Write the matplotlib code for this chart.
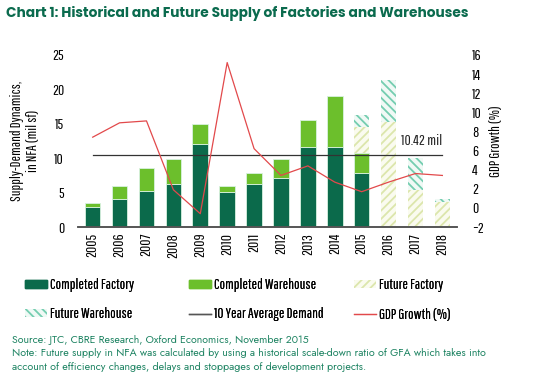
import matplotlib.pyplot as plt
import matplotlib as mpl
from matplotlib.patches import Patch
from matplotlib.lines import Line2D
import numpy as np

years = ['2005', '2006', '2007', '2008', '2009', '2010', '2011',
         '2012', '2013', '2014', '2015', '2016', '2017', '2018']
completed_factory = [2.9, 4.1, 5.2, 6.2, 12.1, 5.1, 6.3, 7.2, 11.7, 11.7, 7.9, 0, 0, 0]
completed_warehouse = [0.6, 1.9, 3.4, 3.7, 2.9, 0.9, 1.6, 2.7, 3.9, 7.3, 2.9, 0, 0, 0]
future_factory = [0, 0, 0, 0, 0, 0, 0, 0, 0, 0, 3.7, 15.2, 5.4, 3.7]
future_warehouse = [0, 0, 0, 0, 0, 0, 0, 0, 0, 0, 1.8, 6.2, 4.6, 0.4]
avg_demand = 10.42
gdp_growth = [7.4, 8.9, 9.1, 1.9, -0.6, 15.2, 6.2, 3.4, 4.4, 2.7, 1.7, 2.7, 3.6, 3.4]

dark = '#0b6a4b'
light = '#6cbf2c'
ff_col = '#dce6ac'
fw_col = '#74cdb0'
red = '#e2494b'
txt_green = '#1f8463'

mpl.rcParams['hatch.linewidth'] = 1.3
cond = ['Pathway Gothic One', 'DejaVu Sans']
geo = ['Jost', 'Questrial', 'DejaVu Sans']
geo_bold = ['Poppins', 'DejaVu Sans']
fs = 10.5

fig = plt.figure(figsize=(5.41, 3.76), dpi=100)
ax = fig.add_axes([0.144, 0.396, 0.701, 0.458])
ax2 = ax.twinx()

x = np.arange(len(years))
w = 0.58
cf = np.array(completed_factory)
cw = np.array(completed_warehouse)
fu_f = np.array(future_factory)
fu_w = np.array(future_warehouse)

# stacked bars: completed first, then future (hatched)
ax.bar(x, cf, w, color=dark, edgecolor='#d8f2e0', linewidth=0.6, zorder=2)
ax.bar(x, cw, w, bottom=cf, color=light, edgecolor='#d8f2e0', linewidth=0.6, zorder=2)
mpl.rcParams['hatch.color'] = ff_col
ax.bar(x, fu_f, w, bottom=cf + cw, color='#fafbef', edgecolor=ff_col, hatch='////',
       linewidth=0, zorder=2)
mpl.rcParams['hatch.color'] = fw_col
ax.bar(x, fu_w, w, bottom=cf + cw + fu_f, color='#f0f9f5', edgecolor=fw_col, hatch='\\\\\\\\',
       linewidth=0, zorder=2)

ax.plot(x, [avg_demand] * len(x), color='#333333', linewidth=0.9, zorder=3)
ax.text(x[-1], avg_demand + 1.0, '10.42 mil', ha='right', va='bottom',
        fontsize=11, family=cond, color='#222222')

ax2.plot(x, gdp_growth, color=red, linewidth=0.9, zorder=3)

ax.set_xlim(-0.55, len(x) - 0.45)
ax.set_ylim(0, 25)
ax2.set_ylim(-2, 16)
ax.set_yticks(range(0, 26, 5))
ax2.set_yticks(range(-2, 17, 2))
ax.set_xticks(x)
ax.set_xticklabels(years, rotation=90)

for a in (ax, ax2):
    for s in ('top', 'left', 'right'):
        a.spines[s].set_visible(False)
    a.spines['bottom'].set_color('#555555')
    a.spines['bottom'].set_linewidth(1.2)
    a.tick_params(length=0, labelsize=11)
for lab in ax.get_yticklabels() + ax2.get_yticklabels() + ax.get_xticklabels():
    lab.set_family(cond)
ax.tick_params(axis='y', pad=10)
ax2.tick_params(axis='y', pad=11)
ax.tick_params(axis='x', pad=4)

ax.set_ylabel('Supply-Demand Dynamics,\nin NFA (mil sf)', family=cond, fontsize=fs,
              labelpad=9, linespacing=1.1)
ax2.set_ylabel('GDP Growth (%)', family=cond, fontsize=fs, labelpad=3)


def fit(t, width_px):
    # scale font so the text spans the given pixel width
    r = fig.canvas.get_renderer()
    bb = t.get_window_extent(r)
    t.set_fontsize(t.get_fontsize() * width_px / bb.width)


title = fig.text(0.011, 0.964, 'Chart 1: Historical and Future Supply of Factories and Warehouses',
                 fontsize=11, fontweight='bold', color='#0b6b4e', va='center', family=geo_bold)
fit(title, 463)

h_cf = Patch(facecolor=dark, edgecolor=dark)
h_cw = Patch(facecolor=light, edgecolor=light)
h_ff = Patch(facecolor='#fafbef', edgecolor=ff_col, hatch='////', linewidth=0)
h_fw = Patch(facecolor='#f0f9f5', edgecolor=fw_col, hatch='\\\\\\\\', linewidth=0)
h_avg = Line2D([0], [0], color='#555555', linewidth=1)
h_gdp = Line2D([0], [0], color=red, linewidth=0.9)

cols = [([h_cf, h_fw], ['Completed Factory', 'Future Warehouse'], 27),
        ([h_cw, h_avg], ['Completed Warehouse', '10 Year Average Demand'], 191),
        ([h_ff, h_gdp], ['Future Factory', 'GDP Growth (%)'], 356)]
for hs, ls, px in cols:
    leg = fig.legend(hs, ls, loc='upper left', bbox_to_anchor=(px / 541 - 0.004, 1 - 278 / 376),
                     frameon=False, prop={'family': cond, 'size': fs},
                     handlelength=1.5, handleheight=0.5, handletextpad=0.25,
                     labelspacing=1.05, borderpad=0, borderaxespad=0)
    fig.add_artist(leg)

src = fig.text(0.022, 1 - 340 / 376, 'Source: JTC, CBRE Research, Oxford Economics, November 2015',
               fontsize=8, color=txt_green, va='center', family=geo)
fit(src, 298)
n1 = fig.text(0.022, 1 - 353 / 376, 'Note: Future supply in NFA was calculated by using a historical '
              'scale-down ratio of GFA which takes into', fontsize=8, color=txt_green,
              va='center', family=geo)
fit(n1, 474)
n2 = fig.text(0.022, 1 - 367 / 376, 'account of efficiency changes, delays and stoppages of development '
              'projects.', fontsize=n1.get_fontsize(), color=txt_green, va='center', family=geo)

fig.savefig('out.png', dpi=100)
